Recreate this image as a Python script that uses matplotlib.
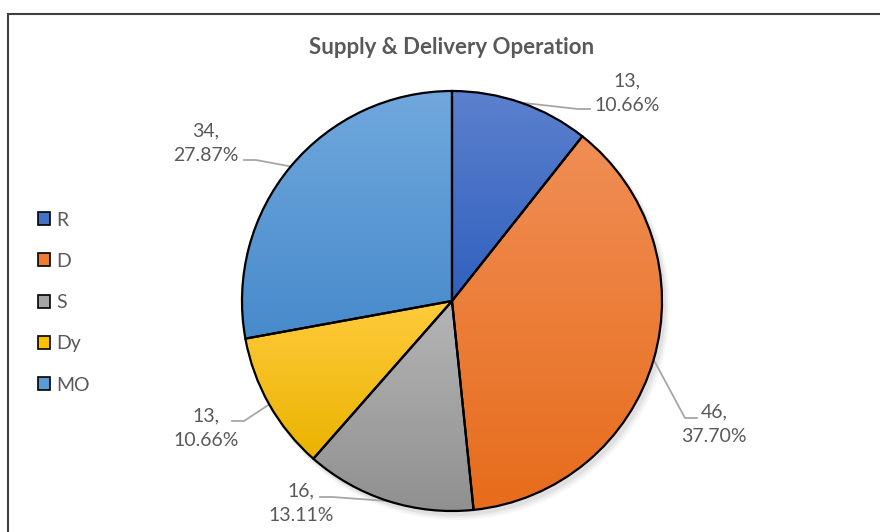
import numpy as np
import matplotlib.pyplot as plt
from matplotlib.patches import Patch, Rectangle
from matplotlib.colors import LinearSegmentedColormap

plt.rcParams['font.family'] = ['Lato', 'DejaVu Sans']

labels = ['R', 'D', 'S', 'Dy', 'MO']
values = [13, 46, 16, 13, 34]
# top / bottom colours of each slice's vertical gradient
top_colors = ['#5C80CD', '#F08E55', '#B5B5B5', '#FFCB3C', '#70A8DD']
bot_colors = ['#3060BF', '#E76C1B', '#909090', '#EAB300', '#478ACB']
legend_colors = ['#4472C4', '#ED7D31', '#A5A5A5', '#FFC000', '#5B9BD5']
# label text centres (pixels, y from top), leader elbow x and elbow y
label_pos = [(627, 93), (714, 424), (301, 503), (206, 428), (206, 143)]
elbow_x = [590, 697, 320, 232, 244]
elbow_y = [109, 418, 497, 421, 160]

W, H = 880, 532
fig = plt.figure(figsize=(W / 100, H / 100), dpi=100)
ax = fig.add_axes([0, 0, 1, 1])

cx, cy, r = 452, H - 301, 210
total = sum(values)
wedges, _ = ax.pie(values, startangle=90, counterclock=False, center=(cx, cy),
                   radius=r, wedgeprops=dict(edgecolor='black', linewidth=1.6))
ax.set_aspect('equal')
ax.axis('off')

# subtle shadow
for k, a in enumerate([0.05, 0.04, 0.03]):
    sh = plt.Circle((cx + 3 + k, cy - 4 - k), r + 1 + k, color='black', alpha=a, zorder=0.5, lw=0)
    ax.add_patch(sh)

grad = np.linspace(0, 1, 256).reshape(-1, 1)
for i, w in enumerate(wedges):
    w.set_zorder(3)
    w.set_facecolor('none')
    ext = w.get_path().get_extents(w.get_patch_transform())
    cmap = LinearSegmentedColormap.from_list('g%d' % i, [top_colors[i], bot_colors[i]])
    im = ax.imshow(grad, cmap=cmap, aspect='auto', origin='upper',
                   extent=[ext.x0, ext.x1, ext.y0, ext.y1], zorder=2)
    im.set_clip_path(w)

ax.set_xlim(0, W)
ax.set_ylim(0, H)

# data labels with leader lines
for i, w in enumerate(wedges):
    mid = np.deg2rad((w.theta1 + w.theta2) / 2)
    ex, ey = cx + r * np.cos(mid), cy + r * np.sin(mid)
    tx, ty = label_pos[i]
    ly = H - elbow_y[i]
    side = 1 if elbow_x[i] > ex else -1
    ax.plot([ex, elbow_x[i] - side * 12, elbow_x[i]], [ey, ly, ly],
            color='#A6A6A6', lw=1.3, zorder=1)
    pct = values[i] / total * 100
    ax.text(tx, H - ty, '%d,\n%.2f%%' % (values[i], pct), ha='center', va='center',
            fontsize=14, color='#595959', linespacing=1.55, zorder=4)

ax.text(452, H - 47, 'Supply & Delivery Operation', ha='center', va='center',
        fontsize=16, fontweight='bold', color='#595959')

handles = [Patch(facecolor=c, edgecolor='black', linewidth=1.2) for c in legend_colors]
fig.legend(handles, labels, loc='upper left', bbox_to_anchor=(20 / W, 1 - 194 / H),
           frameon=False, fontsize=14, labelcolor='#595959', handlelength=0.65,
           handleheight=0.65, handletextpad=0.3, labelspacing=1.25)

fig.patches.append(Rectangle((8 / W, -0.1), 1.2, 1.1 - 14 / H, transform=fig.transFigure,
                             fill=False, edgecolor='#404040', linewidth=1.5))

fig.savefig('out.png', dpi=100)
